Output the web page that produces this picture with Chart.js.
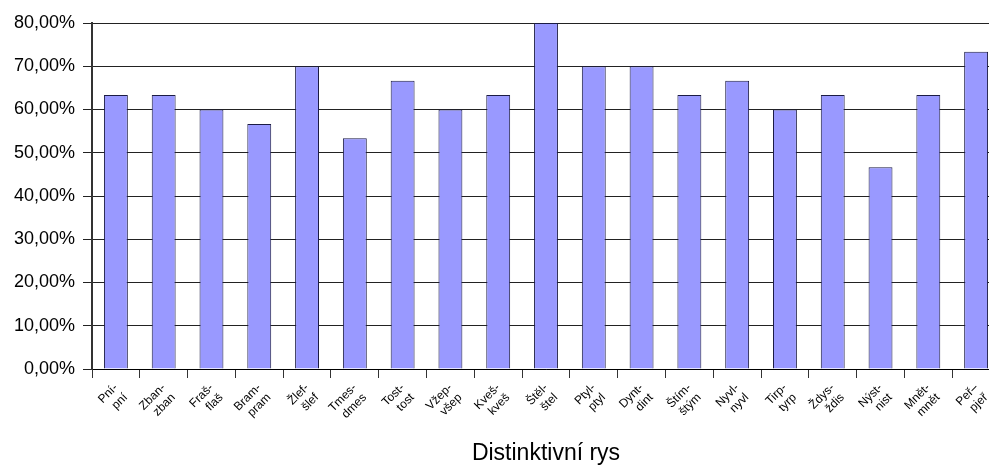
<!DOCTYPE html>
<html lang="cs">
<head>
<meta charset="utf-8">
<title>Distinktivní rys</title>
<script src="https://cdn.jsdelivr.net/npm/chart.js@4/dist/chart.umd.min.js"></script>
<style>
  html, body { margin: 0; padding: 0; background: #fff; overflow: hidden; }
  #chart { display: block; }
</style>
</head>
<body>
<canvas id="chart" width="1000" height="467"></canvas>
<script>
// Categories: pairs of words, split over two lines
const categories = [
    ['Pní-', 'pní'], ['Zban-', 'zban'], ['Fraš-', 'flaš'], ['Bram-', 'pram'],
    ['Žlef-', 'šlef'], ['Tmes-', 'dmes'], ['Tost-', 'tost'], ['Vžep-', 'všep'],
    ['Kveš-', 'kveš'], ['Štěl-', 'štel'], ['Ptyl-', 'ptyl'], ['Dynt-', 'dint'],
    ['Štím-', 'štým'], ['Nyvl-', 'nyvl'], ['Tirp-', 'tyrp'], ['Ždys-', 'ždis'],
    ['Nýst-', 'nist'], ['Mnět-', 'mnět'], ['Peř–', 'pjeř']
];

// Share of correct answers (%)
const values = [
    63.33, 63.33, 60.00, 56.67, 70.00, 53.33, 66.67, 60.00, 63.33, 80.00,
    70.00, 70.00, 63.33, 66.67, 60.00, 63.33, 46.67, 63.33, 73.33
];

const axisTitle = 'Distinktivní rys';
const yMin = 0;
const yMax = 80;
const yStep = 10;

const FONT = '"Liberation Sans", Arial, sans-serif';

const ctx = document.getElementById('chart');

new Chart(ctx, {
    type: 'bar',
    data: {
        labels: categories,
        datasets: [{
            data: values,
            backgroundColor: '#9999ff',
            borderColor: '#1c1c44',
            borderWidth: 1,
            categoryPercentage: 1,
            barPercentage: 0.5
        }]
    },
    options: {
        responsive: false,
        animation: false,
        layout: { padding: { top: 23, right: 0, left: 0, bottom: 0 } },
        plugins: {
            legend: { display: false },
            tooltip: { enabled: false }
        },
        scales: {
            x: {
                offset: true,
                border: { display: true, color: '#000', width: 1 },
                grid: {
                    offset: true,
                    drawOnChartArea: false,
                    drawTicks: true,
                    tickLength: 9,
                    color: '#333'
                },
                ticks: {
                    minRotation: 45,
                    maxRotation: 45,
                    autoSkip: false,
                    padding: 3,
                    color: '#000',
                    font: { family: FONT, size: 12, lineHeight: 1.15 }
                },
                title: {
                    display: true,
                    text: axisTitle,
                    color: '#000',
                    font: { family: FONT, size: 23 },
                    padding: { top: 0, bottom: 0 }
                },
                afterFit(scale) { scale.height = 98; }
            },
            y: {
                min: yMin,
                max: yMax,
                border: { display: true, color: '#333', width: 2 },
                grid: {
                    color: '#222',
                    lineWidth: 1,
                    drawTicks: true,
                    tickLength: 9
                },
                ticks: {
                    stepSize: yStep,
                    padding: 8,
                    color: '#000',
                    font: { family: FONT, size: 18 },
                    callback: v => v.toFixed(2).replace('.', ',') + '%'
                },
                afterFit(scale) { scale.width = 92; }
            }
        }
    }
});
</script>
</body>
</html>
